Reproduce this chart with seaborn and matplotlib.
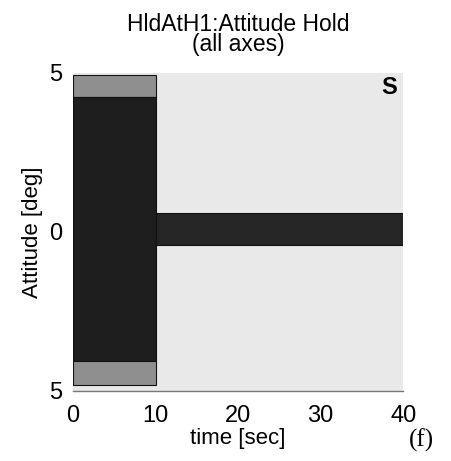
import numpy as np
import pandas as pd
import seaborn as sns
import matplotlib.pyplot as plt

# regions of the envelope plot (time start, time end, attitude low, attitude high)
region_names = ['envelope', 'upper margin', 'hold', 'lower margin', 'settled']
t_start = [0, 0, 0, 0, 10]
t_end = [40, 10, 10, 10, 40]
att_low = [-5, 4.25, -4.05, -4.8, -0.42]
att_high = [5, 4.93, 4.25, -4.05, 0.6]
region_colors = ['#e9e9e9', '#8f8f8f', '#1e1e1e', '#8f8f8f', '#262626']

x_ticks = [0, 10, 20, 30, 40]
y_ticks = [-5, 0, 5]
y_ticklabels = ['5', '0', '5']

df = pd.DataFrame({'region': region_names, 't0': t_start, 't1': t_end,
                   'lo': att_low, 'hi': att_high})

sns.set_style('white', {'text.color': 'black', 'axes.labelcolor': 'black',
                        'xtick.color': 'black', 'ytick.color': 'black'})
plt.rcParams['font.family'] = ['Liberation Sans', 'DejaVu Sans']

fig = plt.figure(figsize=(4.51, 4.61), dpi=100)
ax = fig.add_axes([0.162, 0.152, 0.732, 0.69])

for i, r in df.iterrows():
    ax.bar(r['t0'], r['hi'] - r['lo'], width=r['t1'] - r['t0'], bottom=r['lo'],
           align='edge', color=region_colors[i],
           edgecolor='#111111' if i > 0 else 'none', linewidth=0.8)

ax.set_xlim(0, 40)
ax.set_ylim(-5, 5)
ax.set_xticks(x_ticks)
ax.set_yticks(y_ticks)
ax.set_yticklabels(y_ticklabels)
ax.tick_params(axis='x', labelsize=17, length=0, pad=10)
ax.tick_params(axis='y', labelsize=17, length=0, pad=8)

for s in ['top', 'right', 'left']:
    ax.spines[s].set_visible(False)
ax.spines['bottom'].set_color('#777777')
ax.spines['bottom'].set_linewidth(1)

ax.set_xlabel('time [sec]', fontsize=16, labelpad=1)
ax.set_ylabel('Attitude [deg]', fontsize=16, labelpad=4)
ax.set_title('HldAtH1:Attitude Hold\n(all axes)', fontsize=16.5, linespacing=0.8, pad=16)

ax.text(38.3, 4.55, 'S', fontsize=17, fontweight='bold', ha='center', va='center')
fig.text(0.935, 0.045, '(f)', fontsize=18, family='Liberation Serif', ha='center', va='center')

fig.savefig('out.png', dpi=100)
